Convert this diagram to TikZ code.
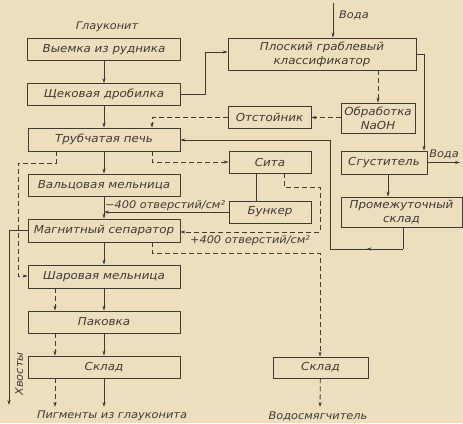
\documentclass[tikz,border=0pt]{standalone}
\usepackage{fontspec}
\usetikzlibrary{arrows.meta,decorations.markings}
\newfontfamily\gost{DejaVu Sans}[FakeStretch=1.08]
\definecolor{paper}{RGB}{237,222,190}
\definecolor{ink}{RGB}{62,58,52}
\begin{document}
\begin{tikzpicture}[x=1pt,y=-1pt,
  txt/.style={font=\gost\itshape\fontsize{10.5}{14}\selectfont, text=ink},
  box/.style={txt, font=\gost\itshape\fontsize{11}{14}\selectfont, draw=ink, line width=0.8pt, minimum height=22pt, inner sep=0pt, align=center},
  lbl/.style={txt, inner sep=0pt},
  ln/.style={draw=ink, line width=0.8pt},
  arr/.style={ln, -{Stealth[length=5pt,width=3.2pt]}},
  dsh/.style={dash pattern=on 5pt off 3pt},
  midarr/.style={postaction={decorate}, decoration={markings, mark=at position 0.5 with {\arrow{Stealth[length=5pt,width=3.2pt]}}}}]
\fill[paper] (0,0) rectangle (463,423);
\useasboundingbox (0,0) rectangle (463,423);

% left column
\node[box, minimum width=153pt] (vyemka) at (104,49.5) {Выемка из рудника};
\node[box, minimum width=153pt] (shchek) at (104,94.5) {Щековая дробилка};
\node[box, minimum width=152pt, minimum height=23pt] (truba) at (104,139.5) {Трубчатая печь};
\node[box, minimum width=152pt] (valts) at (104,185) {Вальцовая мельница};
\node[box, minimum width=152pt, minimum height=23pt] (magn) at (104,230.5) {Магнитный сепаратор};
\node[box, minimum width=152pt, minimum height=23pt] (shar) at (104,276.5) {Шаровая мельница};
\node[box, minimum width=152pt] (pak) at (104,322) {Паковка};
\node[box, minimum width=152pt] (skladA) at (104,367) {Склад};

% right side
\node[box, minimum width=188pt, minimum height=32pt] (klass) at (322,54) {Плоский граблевый\\классификатор};
\node[box, minimum width=74pt, minimum height=30pt] (obr) at (378,118) {Обработка\\NaOH};
\node[box, minimum width=83pt] (otst) at (269.5,117.5) {Отстойник};
\node[box, minimum width=82pt] (sita) at (270,162) {Сита};
\node[box, minimum width=82pt] (bunk) at (270,212) {Бункер};
\node[box, minimum width=86pt, minimum height=23pt] (sgust) at (384,162.5) {Сгуститель};
\node[box, minimum width=121pt, minimum height=30pt] (prom) at (401.5,212) {Промежуточный\\склад};
\node[box, minimum width=95pt, minimum height=21pt] (skladB) at (320.5,367.5) {Склад};

% labels
\node[lbl] (glauk) at (107,27) {Глауконит};
\node[lbl] (pigm) at (112,416) {Пигменты из глауконита};
\node[lbl] (vodosm) at (318,416) {Водосмягчитель};
\node[lbl, rotate=90] (hvost) at (19,374) {Хвосты};
\node[lbl, anchor=west] (voda1) at (339,15) {Вода};
\node[lbl] (voda2) at (444,154) {Вода};
\node[lbl, anchor=west] (m400) at (105,206) {−400 отверстий/см²};
\node[lbl] (p400) at (250,241) {+400 отверстий/см²};

% coordinates
\coordinate (w1) at (333,3);
\coordinate (c1) at (205,52);
\coordinate (c2) at (424,54);
\coordinate (w2) at (460,162.5);
\coordinate (c3) at (403,249);
\coordinate (c4) at (330,249);
\coordinate (c5) at (330,140);
\coordinate (d1) at (152,117.5);
\coordinate (d2) at (152,162);
\coordinate (d3) at (284,187);
\coordinate (d4) at (320,187);
\coordinate (d5) at (320,232);
\coordinate (d6) at (152,253);
\coordinate (d7) at (320,253);
\coordinate (e1) at (56,163);
\coordinate (e2) at (18,163);
\coordinate (e3) at (18,276);
\coordinate (h1) at (9,230);
\coordinate (h2) at (9,405);
\coordinate (outA) at (104,407);
\coordinate (outB) at (55,407);
\coordinate (outC) at (320,407);
\coordinate (sb) at (256,0);
\coordinate (sg) at (388,0);

% main solid flow
\draw[arr] (w1) -- (w1 |- klass.north);
\draw[arr] (vyemka) -- (shchek);
\draw[arr] (shchek.east) -| (c1) -- (c1 -| klass.west);
\draw[arr] (shchek) -- (truba);
\draw[arr] (truba) -- (valts);
\draw[arr] (valts) -- (magn);
\draw[arr] (magn) -- (shar);
\draw[arr] (shar) -- (pak);
\draw[arr] (pak) -- (skladA);
\draw[arr] (skladA) -- (outA);
\draw[arr] (klass.east |- c2) -- (c2) -- (c2 |- sgust.north);
\draw[arr] (sgust.east |- w2) -- (w2);
\draw[arr] (sg |- sgust.south) -- (sg |- prom.north);
\draw[ln] (c3 |- prom.south) -- (c3);
\draw[ln, midarr] (c3) -- (c4);
\draw[arr] (c4) -- (c5) -- (c5 -| truba.east);
\draw[ln] (sb |- sita.south) -- (sb |- bunk.north);
\draw[arr] (bunk.west) -- (bunk.west -| valts.south);
\draw[arr] (magn.west |- h1) -- (h1) -- (h2);

% dashed flows
\draw[arr, dsh] (klass.south -| obr.north) -- (obr.north);
\draw[arr, dsh] (obr.west |- otst.east) -- (otst.east);
\draw[arr, dsh] (otst.west) -- (d1) -- (d1 |- truba.north);
\draw[arr, dsh] (d2 |- truba.south) -- (d2) -- (sita.west);
\draw[arr, dsh] (d3 |- sita.south) -- (d3) -- (d4) -- (d5) -- (d5 -| magn.east);
\draw[arr, dsh] (d6 |- magn.south) -- (d6) -- (d7) -- (d7 |- skladB.north);
\draw[arr, dsh] (skladB) -- (outC);
\draw[arr, dsh] (e1 |- truba.south) -- (e1) -- (e2) -- (e3) -- (e3 -| shar.west);
\draw[arr, dsh] (outB |- shar.south) -- (outB |- pak.north);
\draw[arr, dsh] (outB |- pak.south) -- (outB |- skladA.north);
\draw[arr, dsh] (outB |- skladA.south) -- (outB);
\end{tikzpicture}
\end{document}
